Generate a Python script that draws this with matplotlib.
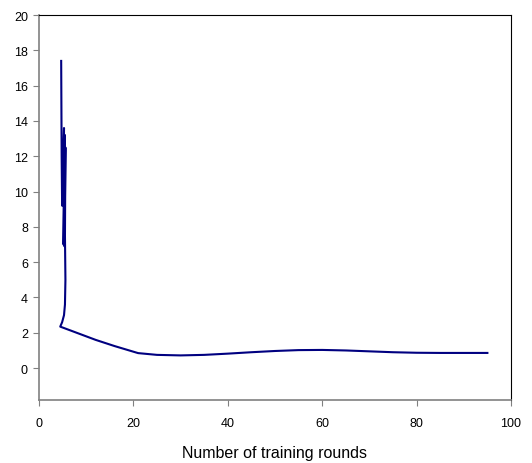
import matplotlib
matplotlib.use("Agg")
import matplotlib.pyplot as plt

plt.rcParams["font.family"] = ["Liberation Sans", "DejaVu Sans"]

# training rounds vs. error
rounds = [4.7, 4.8, 4.9, 5.3, 5.2, 5.5, 5.4, 5.6, 5.5, 5.6, 5.5, 5.3, 4.9,
          4.5, 5.0, 8, 12, 16, 21, 25, 30, 35, 40, 45, 50, 55, 60, 65,
          70, 75, 80, 85, 90, 95]
error = [17.4, 12.0, 9.2, 13.6, 7.0, 13.2, 6.9, 12.5, 7.5, 5.0, 3.6, 3.0, 2.6,
         2.35, 2.3, 2.0, 1.6, 1.25, 0.85, 0.75, 0.72, 0.75, 0.82, 0.9, 0.97,
         1.02, 1.03, 1.0, 0.95, 0.9, 0.87, 0.86, 0.86, 0.86]

xticks = [0, 20, 40, 60, 80, 100]
yticks = [0, 2, 4, 6, 8, 10, 12, 14, 16, 18, 20]

fig = plt.figure(figsize=(5.32, 4.64), dpi=100)
ax = fig.add_axes([0.0733, 0.136, 0.8872, 0.8295])

ax.plot(rounds, error, color="#000080", linewidth=1.5, solid_joinstyle="round")

ax.set_xlim(0, 100)
ax.set_ylim(-1.8, 20)
ax.set_xticks(xticks)
ax.set_yticks(yticks)
ax.tick_params(labelsize=9, direction="out", length=4, color="#808080")
ax.tick_params(axis="x", pad=8)
ax.tick_params(axis="y", pad=4)

for side in ["left", "bottom"]:
    ax.spines[side].set_color("#808080")
    ax.spines[side].set_linewidth(1.2)
for side in ["top", "right"]:
    ax.spines[side].set_color("black")
    ax.spines[side].set_linewidth(0.8)

ax.set_xlabel("Number of training rounds", fontsize=11.5, labelpad=12)

fig.savefig("out.png", dpi=100)
